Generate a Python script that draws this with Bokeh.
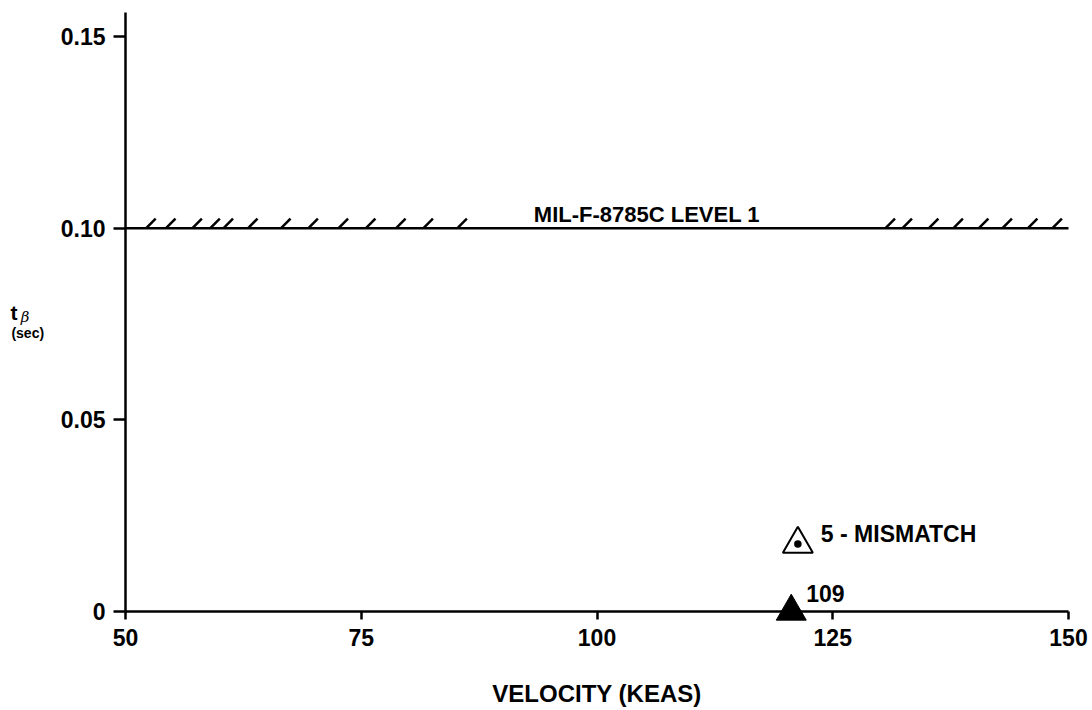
from bokeh.plotting import figure
from bokeh.models import Range1d, FixedTicker, CustomJSTickFormatter, Label, ColumnDataSource
from bokeh.core.properties import value
from bokeh.embed import file_html
from bokeh.resources import INLINE

# Axis ticks
x_ticks = [50, 75, 100, 125, 150]
y_ticks = [0.0, 0.05, 0.10, 0.15]
x_bounds = (50, 150)
y_bounds = (0.0, 0.1563)

# Flight test point (time to first sideslip peak)
velocity = [120.6]
t_beta = [0.0]
run_labels = ["109"]

# Symbol key
key_velocity = [121.3]
key_t_beta = [0.0176]
key_text = ["5 - MISMATCH"]

# Specification boundary
limit_value = 0.10
limit_x = [50, 150]
limit_text = "MIL-F-8785C LEVEL 1"
# Positions of the hatch marks along the boundary
hatch_x = [52.7, 54.8, 57.6, 59.5, 60.9, 63.5, 67.0, 69.9, 73.1, 76.0, 79.2, 82.1, 85.7,
           131.1, 132.9, 135.7, 138.3, 141.0, 143.5, 146.2, 148.8]

FONT = "Liberation Sans"

# The frame fills the canvas; the axes sit at fixed data positions inside it
p = figure(width=1092, height=710, output_backend="svg", toolbar_location=None,
           min_border=0, x_range=Range1d(36.744, 152.545), y_range=Range1d(-0.02583, 0.1594))
p.outline_line_color = None
p.xgrid.visible = False
p.ygrid.visible = False
p.background_fill_color = "white"
p.border_fill_color = "white"

for ax in (p.xaxis[0], p.yaxis[0]):
    ax.axis_line_width = 2.5
    ax.axis_line_color = "black"
    ax.major_tick_line_width = 2.5
    ax.major_tick_line_color = "black"
    ax.minor_tick_line_color = None
    ax.major_tick_in = 0
    ax.major_label_text_font = FONT
    ax.major_label_text_font_style = "bold"
    ax.major_label_text_font_size = "23px"
    ax.major_label_text_color = "black"

p.xaxis.fixed_location = y_bounds[0]
p.xaxis.bounds = x_bounds
p.xaxis.ticker = FixedTicker(ticks=x_ticks)
p.xaxis.major_tick_out = 8
p.xaxis.major_label_standoff = 10
p.xaxis.axis_label = "VELOCITY (KEAS)"
p.xaxis.axis_label_text_font = FONT
p.xaxis.axis_label_text_font_style = "bold"
p.xaxis.axis_label_text_font_size = "24px"
p.xaxis.axis_label_text_color = "black"
p.xaxis.axis_label_standoff = 30

p.yaxis.fixed_location = x_bounds[0]
p.yaxis.bounds = y_bounds
p.yaxis.ticker = FixedTicker(ticks=y_ticks)
p.yaxis.major_tick_out = 12
p.yaxis.major_label_standoff = 8
p.yaxis.formatter = CustomJSTickFormatter(code="return tick == 0 ? '0' : tick.toFixed(2);")

# Y axis title: t with subscript beta, and units beneath
p.add_layout(Label(x=37.8, y=0.0780, text="t", text_font=FONT, text_font_style="bold",
                   text_font_size="21px", text_baseline="middle", text_align="left",
                   text_color="black"))
p.add_layout(Label(x=38.9, y=0.0768, text="β", text_font="DejaVu Serif", text_font_style="italic",
                   text_font_size="15px", text_baseline="middle", text_align="left",
                   text_color="black"))
p.add_layout(Label(x=37.9, y=0.0727, text="(sec)", text_font=FONT, text_font_style="bold",
                   text_font_size="14px", text_baseline="middle", text_align="left",
                   text_color="black"))

# Level 1 boundary with hatching on the acceptable side
p.line(limit_x, [limit_value, limit_value], line_color="black", line_width=2.5)
hatch = ColumnDataSource(dict(
    x0=[h - 0.5 for h in hatch_x],
    y0=[limit_value] * len(hatch_x),
    x1=[h + 0.5 for h in hatch_x],
    y1=[limit_value + 0.0025] * len(hatch_x),
))
p.segment(x0="x0", y0="y0", x1="x1", y1="y1", source=hatch, line_color="black", line_width=2.5)
p.add_layout(Label(x=93.3, y=limit_value + 0.0037, text=limit_text, text_font=FONT,
                   text_font_style="bold", text_font_size="22px", text_baseline="middle",
                   text_align="left", text_color="black"))

# Test point
pts = ColumnDataSource(dict(x=velocity, y=t_beta, label=run_labels))
p.scatter(x="x", y="y", source=pts, marker="triangle", size=30,
          fill_color="black", line_color="black")
p.text(x="x", y="y", text="label", source=pts, x_offset=15, y_offset=-18,
       text_font=value(FONT), text_font_style="bold", text_font_size="23px",
       text_baseline="middle", text_align="left", text_color="black")

# Symbol key
key = ColumnDataSource(dict(x=key_velocity, y=key_t_beta, label=key_text))
p.scatter(x="x", y="y", source=key, marker="triangle_dot", size=30,
          fill_color=None, line_color="black", line_width=2)
p.text(x="x", y="y", text="label", source=key, x_offset=23, y_offset=-10,
       text_font=value(FONT), text_font_style="bold", text_font_size="23px",
       text_baseline="middle", text_align="left", text_color="black")

open("out.html", "w").write(file_html(p, INLINE))
